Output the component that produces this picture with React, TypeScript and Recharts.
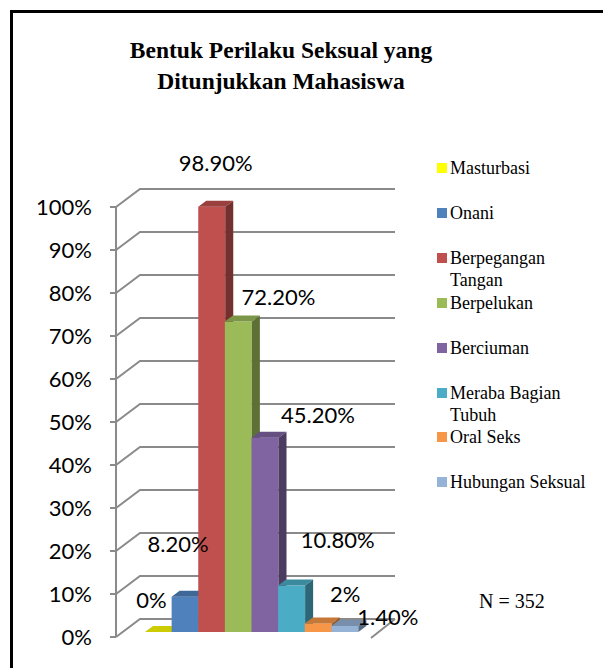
import { BarChart, Bar, XAxis, YAxis, CartesianGrid, LabelList, Legend } from "recharts";

const categories = [
  "Masturbasi",
  "Onani",
  "Berpegangan Tangan",
  "Berpelukan",
  "Berciuman",
  "Meraba Bagian Tubuh",
  "Oral Seks",
  "Hubungan Seksual",
];
const percentages = [0, 8.2, 98.9, 72.2, 45.2, 10.8, 2, 1.4];
const valueLabels = ["0%", "8.20%", "98.90%", "72.20%", "45.20%", "10.80%", "2%", "1.40%"];
const yTicks = [0, 10, 20, 30, 40, 50, 60, 70, 80, 90, 100];
const colors = ["#FFFF00", "#4F81BD", "#C0504D", "#9BBB59", "#8064A2", "#4BACC6", "#F79646", "#95B3D7"];

// where Excel dropped each data label, relative to the top of its bar
const labelDx = [-7, -7, 4, 40, 53, 46, 27, 43];
const labelDy = [-38, -58, -49, -30, -28, -51, -35, -14];

const data = categories.map((name, i) => ({ name, value: percentages[i], label: valueLabels[i] }));

const W = 603;
const H = 668;
const MARGIN = { top: 207, right: 208, bottom: 31, left: 0 };
const PLOT_BOTTOM = H - MARGIN.bottom;

// 3D look: back wall offset and bar depth
const WALL_DX = 24;
const WALL_DY = 18;
const BAR_DX = 8;
const BAR_DY = 6;
const BAR_LIFT = 5;
const GRID = "#8a8a8a";

const labelFont = "Lato, 'Open Sans', sans-serif";
const serif = "'Liberation Serif', 'DejaVu Serif', serif";

function shade(hex: string, f: number) {
  const n = parseInt(hex.slice(1), 16);
  const r = Math.round(((n >> 16) & 255) * f);
  const g = Math.round(((n >> 8) & 255) * f);
  const b = Math.round((n & 255) * f);
  return `rgb(${r},${g},${b})`;
}

function Bar3D(props: any) {
  const { x, y, width, height, index } = props;
  const c = colors[index];
  const top = y - BAR_LIFT;
  const h = Math.max(height || 0, 0);
  const r = x + width;
  return (
    <g>
      <rect x={x} y={top} width={width} height={h} fill={c} />
      <polygon
        points={`${x},${top} ${x + BAR_DX},${top - BAR_DY} ${r + BAR_DX},${top - BAR_DY} ${r},${top}`}
        fill={shade(c, 0.8)}
      />
      <polygon
        points={`${r},${top} ${r + BAR_DX},${top - BAR_DY} ${r + BAR_DX},${top + h - BAR_DY} ${r},${top + h}`}
        fill={shade(c, 0.6)}
      />
    </g>
  );
}

function GridLine(props: any) {
  const { x1, x2, y1 } = props;
  const bx = x1 + WALL_DX;
  const by = y1 - WALL_DY;
  const floor = Math.abs(y1 - PLOT_BOTTOM) < 1;
  return (
    <g>
      <path d={`M${x1},${y1} L${bx},${by} L${x2},${by}`} stroke={GRID} strokeWidth={2} fill="none" />
      {floor && (
        <path d={`M${x2 - WALL_DX},${y1 + 1} L${x2},${by}`} stroke={GRID} strokeWidth={2} fill="none" />
      )}
    </g>
  );
}

function ValueLabel(props: any) {
  const vb = props.viewBox ?? props;
  const i = typeof props.index === "number" ? props.index : valueLabels.indexOf(props.value);
  const x = (vb.x ?? props.x) + (vb.width ?? props.width) / 2 + labelDx[i];
  const y = (vb.y ?? props.y) + labelDy[i];
  return (
    <text x={x} y={y} textAnchor="middle" dominantBaseline="central" fontSize={22} fontFamily={labelFont} fill="#000">
      {valueLabels[i]}
    </text>
  );
}

function LegendBox() {
  return (
    <div style={{ position: "relative", width: 170, height: 340, fontFamily: serif, fontSize: 18, lineHeight: "22px", color: "#000" }}>
      {categories.map((name, i) => (
        <div key={name} style={{ position: "absolute", left: 0, top: i * 44.9, display: "flex" }}>
          <span style={{ width: 10, height: 10, background: colors[i], marginTop: 6, flex: "none" }} />
          <span style={{ marginLeft: 3, width: 145 }}>{name}</span>
        </div>
      ))}
    </div>
  );
}

export default function App() {
  return (
    <div style={{ position: "fixed", left: 0, top: 0, width: W, height: H, overflow: "hidden", background: "#fff" }}>
      <div style={{ position: "absolute", left: 10, top: 10, width: 700, height: 800, borderLeft: "3px solid #000", borderTop: "3px solid #000" }} />
      <svg width={562} height={100} style={{ position: "absolute", left: 0, top: 0 }}>
        <text x={281} y={58} textAnchor="middle" fontFamily={serif} fontWeight={700} fontSize={23.5} fill="#000">
          Bentuk Perilaku Seksual yang
        </text>
        <text x={281} y={89} textAnchor="middle" fontFamily={serif} fontWeight={700} fontSize={23.5} fill="#000">
          Ditunjukkan Mahasiswa
        </text>
      </svg>
      <div style={{ position: "absolute", left: 0, top: 0 }}>
        <BarChart width={W} height={H} data={data} margin={MARGIN} barCategoryGap={0}>
          <CartesianGrid vertical={false} horizontal={(p: any) => <GridLine {...p} />} />
          <XAxis dataKey="name" hide padding={{ left: 29, right: 37 }} />
          <YAxis
            type="number"
            domain={[0, 100]}
            ticks={yTicks}
            interval={0}
            width={116}
            tickFormatter={(v: number) => `${v}%`}
            axisLine={{ stroke: GRID, strokeWidth: 2 }}
            tickLine={{ stroke: GRID, strokeWidth: 2 }}
            tickSize={6}
            tickMargin={18}
            tick={{ fill: "#000", fontSize: 22, fontFamily: labelFont }}
          />
          <Legend
            layout="horizontal"
            align="center"
            verticalAlign="middle"
            wrapperStyle={{ left: 437, top: 157, width: 170, height: 340 }}
            content={() => <LegendBox />}
          />
          <Bar dataKey="value" shape={(p: any) => <Bar3D {...p} />} isAnimationActive={false}>
            <LabelList dataKey="label" content={(p: any) => <ValueLabel {...p} />} />
          </Bar>
        </BarChart>
      </div>
      <div style={{ position: "absolute", left: 479, top: 589, fontFamily: serif, fontSize: 20, lineHeight: "24px", color: "#000" }}>
        N = 352
      </div>
    </div>
  );
}
